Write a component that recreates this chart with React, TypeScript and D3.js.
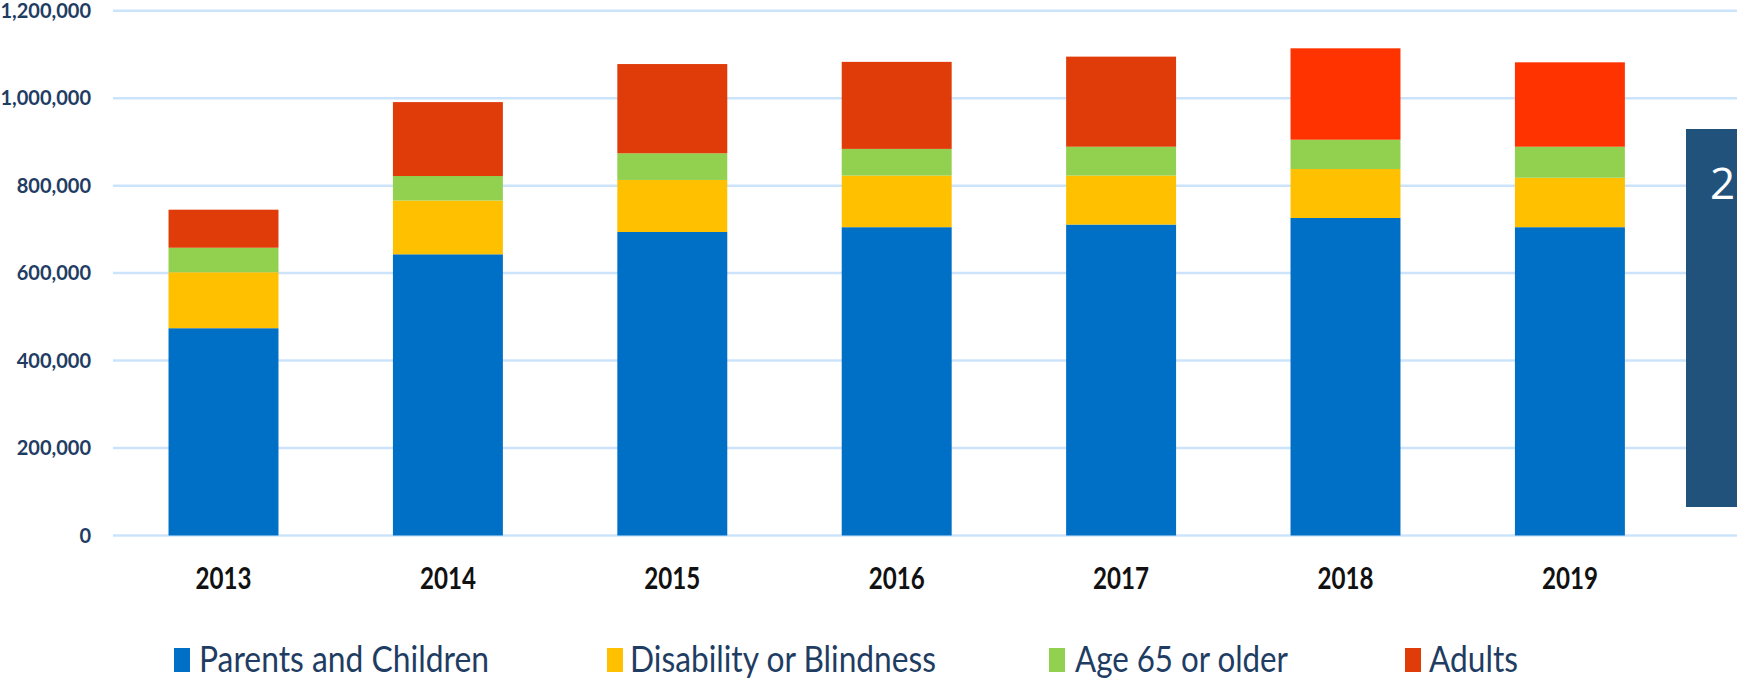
import React from "react";
import * as d3 from "d3";

const years = ["2013", "2014", "2015", "2016", "2017", "2018", "2019"];
const parentsAndChildren = [474000, 643000, 694000, 705000, 711000, 726000, 705000];
const disabilityOrBlindness = [128000, 123000, 119000, 118000, 112000, 112000, 113000];
const age65OrOlder = [56000, 56000, 61000, 61000, 66000, 67000, 71000];
const adults = [87000, 169000, 204000, 199000, 206000, 209000, 193000];
const seriesNames = ["Parents and Children", "Disability or Blindness", "Age 65 or older", "Adults"];
const yTicks = [0, 200000, 400000, 600000, 800000, 1000000, 1200000];

const W = 1737;
const H = 680;
const COLORS = ["#0070C6", "#FFC000", "#92D050", "#E03C0A"];
const ADULTS_BRIGHT = "#FF3300";
const brightAdultYears = new Set(["2018", "2019"]);
const NAVY = "#1f3d63";

export default function App() {
  const rows = years.map((yr, i) => ({
    year: yr,
    s0: parentsAndChildren[i],
    s1: disabilityOrBlindness[i],
    s2: age65OrOlder[i],
    s3: adults[i],
  }));
  const stack = d3.stack<any>().keys(["s0", "s1", "s2", "s3"]);
  const stacked = stack(rows);

  const x = d3
    .scaleBand<string>()
    .domain(years)
    .range([111.3, 111.3 + 7 * 224.4])
    .paddingInner(0.51)
    .paddingOuter(0.255);
  const y = d3.scaleLinear().domain([0, 1200000]).range([535.5, 10.7]);
  const fmt = d3.format(",");

  const legendItems = [
    { sq: 174, tx: 199, tw: 290 },
    { sq: 607, tx: 630, tw: 306 },
    { sq: 1049, tx: 1075, tw: 213 },
    { sq: 1405, tx: 1429, tw: 89 },
  ];

  return (
    <svg
      width={W}
      height={H}
      style={{ position: "absolute", left: 0, top: 0, display: "block", background: "#fff" }}
    >
      <rect x={0} y={0} width={W} height={H} fill="#fff" />
      {yTicks.map((t) => (
        <g key={t}>
          <line x1={113} x2={W} y1={y(t)} y2={y(t)} stroke="#cce4fb" strokeWidth={2.5} />
          <text
            x={91}
            y={y(t)}
            dy="0.36em"
            textAnchor="end"
            fontFamily="Lato, 'Open Sans', sans-serif"
            fontWeight={700}
            fontSize={20}
            fill={NAVY}
            textLength={fmt(t).length > 1 ? undefined : undefined}
          >
            {fmt(t)}
          </text>
        </g>
      ))}
      {stacked.map((layer, li) => (
        <g key={layer.key}>
          {layer.map((d: any) => {
            const yr = d.data.year;
            const fill = li === 3 && brightAdultYears.has(yr) ? ADULTS_BRIGHT : COLORS[li];
            return (
              <rect
                key={yr}
                x={x(yr)}
                width={x.bandwidth()}
                y={y(d[1])}
                height={y(d[0]) - y(d[1])}
                fill={fill}
              />
            );
          })}
        </g>
      ))}
      {years.map((yr) => (
        <text
          key={yr}
          x={(x(yr) as number) + x.bandwidth() / 2}
          y={589}
          textAnchor="middle"
          fontFamily="Lato, 'Open Sans', sans-serif"
          fontWeight={700}
          fontSize={30}
          fill="#111"
          textLength={56}
          lengthAdjust="spacingAndGlyphs"
        >
          {yr}
        </text>
      ))}
      {seriesNames.map((name, i) => (
        <g key={name}>
          <rect x={legendItems[i].sq} y={648} width={16} height={24} fill={COLORS[i]} />
          <text
            x={legendItems[i].tx}
            y={672}
            fontFamily="Lato, 'Open Sans', sans-serif"
            fontSize={36}
            fill={NAVY}
            textLength={legendItems[i].tw}
            lengthAdjust="spacingAndGlyphs"
          >
            {name}
          </text>
        </g>
      ))}
      <rect x={1686} y={129} width={W - 1686} height={378} fill="#21527b" />
      <text
        x={1710}
        y={199}
        fontFamily="'Open Sans', Lato, sans-serif"
        fontSize={44}
        fill="#fff"
      >
        2
      </text>
    </svg>
  );
}
